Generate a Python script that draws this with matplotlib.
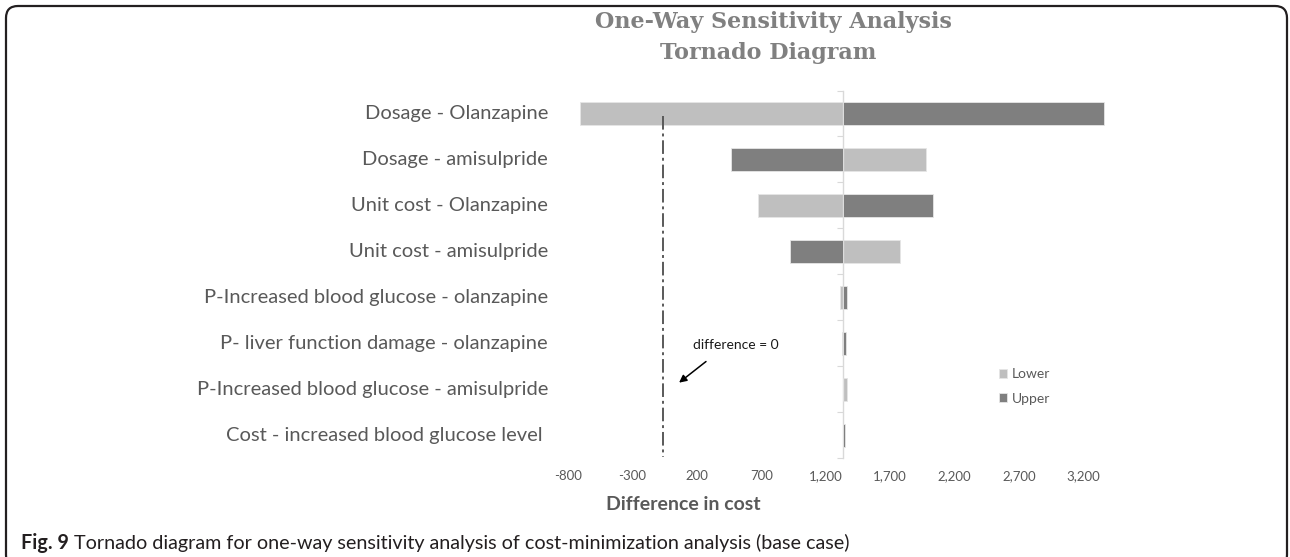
import matplotlib
matplotlib.use("Agg")
import matplotlib.pyplot as plt
from matplotlib.patches import FancyBboxPatch
from matplotlib.transforms import IdentityTransform, blended_transform_factory
import numpy as np

# ---------------- data ----------------
categories = [
    "Dosage - Olanzapine",
    "Dosage - amisulpride",
    "Unit cost - Olanzapine",
    "Unit cost - amisulpride",
    "P-Increased blood glucose - olanzapine",
    "P- liver function damage - olanzapine",
    "P-Increased blood glucose - amisulpride",
    "Cost - increased blood glucose level ",
]
base_value = 1336
lower_values = [-705, 1977, 673, 1778, 1308, 1330, 1362, 1332]
upper_values = [3364, 464, 2030, 921, 1367, 1356, 1336, 1350]
tick_values = [-800, -300, 200, 700, 1200, 1700, 2200, 2700, 3200]
tick_labels = ["-800", "-300", "200", "700", "1,200", "1,700", "2,200", "2,700", "3,200"]
zero_line_value = -60

W, H = 1290, 557
fig = plt.figure(figsize=(W / 100, H / 100), dpi=100)

def fx(px):
    return px / W

def fy(py):
    return 1 - py / H

FONT = ["Lato", "DejaVu Sans"]
GREY_TXT = "#595959"
LIGHT = "#bfbfbf"
DARK = "#7f7f7f"

ax_left, ax_right = 568, 1122
ax_top, ax_bottom = 90.5, 458
ax = fig.add_axes([fx(ax_left), fy(ax_bottom), fx(ax_right - ax_left), (ax_bottom - ax_top) / H])
ax.set_xlim(-800, 3500)
ax.set_ylim(len(categories) - 0.5, -0.5)

y = np.arange(len(categories))
lower = np.array(lower_values, dtype=float)
upper = np.array(upper_values, dtype=float)
b1 = ax.barh(y, lower - base_value, left=base_value, height=0.5, color=LIGHT,
             edgecolor="#e6e6e6", linewidth=0.6, label="Lower", zorder=2)
b2 = ax.barh(y, upper - base_value, left=base_value, height=0.5, color=DARK,
             edgecolor="#e6e6e6", linewidth=0.6, label="Upper", zorder=3)

for s in ["top", "right", "bottom"]:
    ax.spines[s].set_visible(False)
ax.spines["left"].set_position(("data", base_value))
ax.spines["left"].set_color("#d9d9d9")
ax.spines["left"].set_linewidth(1.0)
ax.set_yticks(np.arange(-0.5, len(categories) + 0.5, 1.0))
ax.set_yticklabels([])
ax.tick_params(axis="y", length=4, color="#d9d9d9", direction="out")

ax.set_xticks(tick_values)
ax.set_xticklabels(tick_labels)
ax.tick_params(axis="x", length=0, pad=9, labelsize=9.5, labelcolor=GREY_TXT)
for t in ax.get_xticklabels():
    t.set_fontfamily(FONT)

# category labels
trans = blended_transform_factory(ax.transAxes, ax.transData)
lab_x = (548 - ax_left) / (ax_right - ax_left)
for i, c in enumerate(categories):
    ax.text(lab_x, i, c, transform=trans, ha="right", va="center",
            fontsize=14.5, color=GREY_TXT, family=FONT)

# difference = 0 line
ax.vlines(zero_line_value, 0.05, 7.47, colors="#595959", linewidth=1.4,
          linestyles=[(0, (7, 2, 1.5, 2))], zorder=4)
ax.text(502, 5.05, "difference = 0", ha="center", va="center", fontsize=10,
        color="#1a1a1a", family=FONT)
ax.annotate("", xy=(62, 5.86), xytext=(271, 5.4),
            arrowprops=dict(arrowstyle="-|>", color="black", lw=1.1,
                            mutation_scale=11, shrinkA=0, shrinkB=0))

# legend
leg = fig.legend(handles=[b1, b2], labels=["Lower", "Upper"], loc="center left",
                 bbox_to_anchor=(fx(986), fy(386.5)), frameon=False,
                 handlelength=0.6, handleheight=0.6, handletextpad=0.35,
                 labelspacing=0.9, prop={"family": FONT, "size": 10})
for t in leg.get_texts():
    t.set_color(GREY_TXT)

# axis title
fig.text(fx(683), fy(505), "Difference in cost", ha="center", va="center",
         fontsize=14, fontweight="bold", color=GREY_TXT, family=FONT)

# chart title
TITLE_FONT = ["DejaVu Serif"]
fig.text(fx(773), fy(22), "One-Way Sensitivity Analysis", ha="center", va="center",
         fontsize=16, fontweight="bold", color="#808080", family=TITLE_FONT)
fig.text(fx(768), fy(53), "Tornado Diagram", ha="center", va="center",
         fontsize=16, fontweight="bold", color="#808080", family=TITLE_FONT)

# caption
renderer = fig.canvas.get_renderer()
cap1 = fig.text(fx(21), fy(543), "Fig. 9", ha="left", va="center", fontsize=14.2,
                fontweight="bold", color="#231f20", family=FONT)
bb = cap1.get_window_extent(renderer=renderer)
fig.text(bb.x1 / W + fx(5), fy(543), "Tornado diagram for one-way sensitivity analysis of cost-minimization analysis (base case)",
         ha="left", va="center", fontsize=14.2, color="#231f20", family=FONT)

# outer rounded frame
frame = FancyBboxPatch((6, -10), 1281, 561, boxstyle="round,pad=0,rounding_size=12",
                       transform=IdentityTransform(), fill=False, edgecolor="#231f20",
                       linewidth=1.6)
fig.patches.append(frame)

fig.savefig("out.png", dpi=100)
